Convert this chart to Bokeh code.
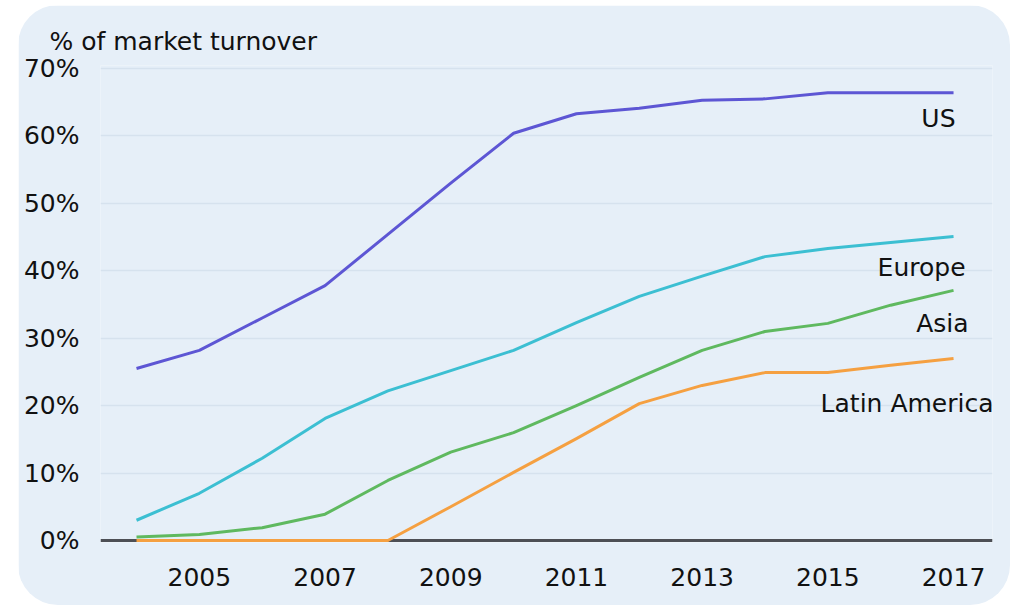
from bokeh.plotting import figure
from bokeh.models import Range1d, FixedTicker, PrintfTickFormatter, Span
from bokeh.core.properties import value
from bokeh.embed import file_html
from bokeh.resources import INLINE

years = list(range(2004, 2018))
us = [25.5, 28.2, 33.0, 37.8, 45.4, 53.0, 60.4, 63.3, 64.1, 65.3, 65.5, 66.4, 66.4, 66.4]
europe = [3.0, 7.0, 12.2, 18.1, 22.2, 25.2, 28.2, 32.3, 36.2, 39.2, 42.1, 43.3, 44.2, 45.1]
asia = [0.5, 0.9, 1.9, 3.9, 8.9, 13.1, 16.0, 20.0, 24.2, 28.2, 31.0, 32.2, 34.9, 37.1]
latin_america = [0.0, 0.0, 0.0, 0.0, 0.0, 5.0, 10.1, 15.1, 20.3, 23.0, 24.9, 24.9, 26.0, 27.0]
series_names = ["US", "Europe", "Asia", "Latin America"]
colors = ["#5d56d4", "#3cbfd2", "#5fb95f", "#f5a041"]
y_ticks = [0, 10, 20, 30, 40, 50, 60, 70]
x_ticks = [2005, 2007, 2009, 2011, 2013, 2015, 2017]
title_text = "% of market turnover"

FONT = "DejaVu Sans"
FS = "25px"
BG = "#e6eff8"

p = figure(width=992, height=600, output_backend="svg", toolbar_location=None,
           x_range=Range1d(2003.427, 2017.62), y_range=Range1d(-0.3, 70.45),
           min_border_left=82, min_border_right=18, min_border_top=60, min_border_bottom=63,
           title=title_text)
p.margin = (5, 13, 2, 18)
p.styles = {"border-radius": "40px", "overflow": "hidden"}
p.background_fill_color = BG
p.border_fill_color = BG
p.outline_line_color = None

p.title.text_font = FONT
p.title.text_font_size = FS
p.title.text_font_style = "normal"
p.title.text_color = "#111111"
p.title.align = "left"
p.title.offset = -51
p.title.standoff = 20

p.xgrid.grid_line_color = None
p.ygrid.grid_line_color = "#d6e2ee"
p.ygrid.grid_line_width = 1.5

p.yaxis.ticker = FixedTicker(ticks=y_ticks)
p.yaxis.formatter = PrintfTickFormatter(format="%d%%")
p.xaxis.ticker = FixedTicker(ticks=x_ticks)
for ax in (p.xaxis, p.yaxis):
    ax.axis_line_color = None
    ax.major_tick_line_color = None
    ax.minor_tick_line_color = None
    ax.major_label_text_font = FONT
    ax.major_label_text_font_size = FS
    ax.major_label_text_color = "#111111"
p.yaxis.major_label_standoff = 15
p.xaxis.major_label_standoff = 19

p.add_layout(Span(location=0, dimension="width", line_color="#4d4f55", line_width=3, level="underlay"))

all_series = [us, europe, asia, latin_america]
for vals, c in zip(all_series, colors):
    p.line(years, vals, line_color=c, line_width=3, line_join="round")

# end-of-line labels
offsets = [(2, -26), (12, -31), (15, -33), (40, -45)]
for name, vals, (dx, dy) in zip(series_names, all_series, offsets):
    p.text(x=[years[-1]], y=[vals[-1]], text=[name], x_offset=dx, y_offset=-dy,
           text_align="right", text_baseline="middle", text_font=value(FONT),
           text_font_size=FS, text_color="#111111")

html = file_html(p, INLINE)
html = html.replace("<body>", '<body style="margin:0;background:#ffffff;">')
open("out.html", "w").write(html)
